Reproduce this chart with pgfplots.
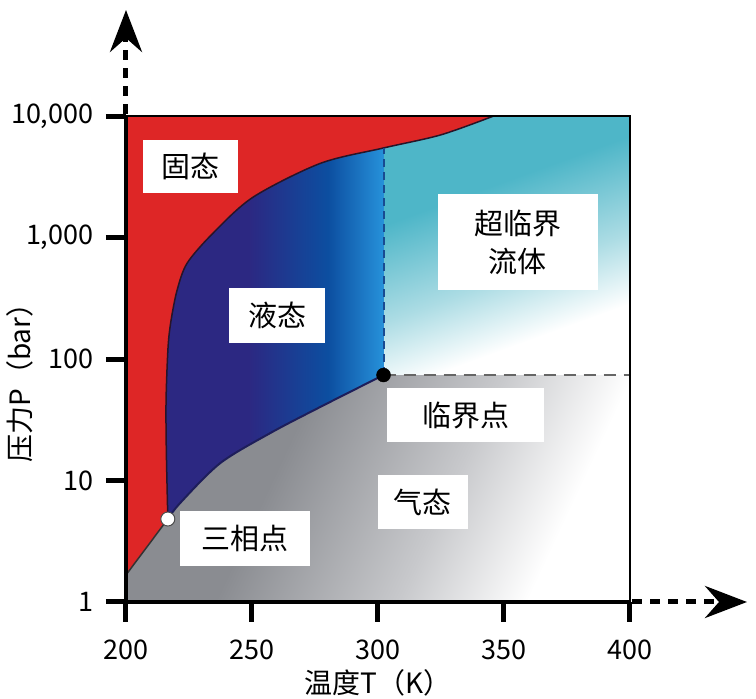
\documentclass[border=0pt]{standalone}
\usepackage{pgfplots}
\pgfplotsset{compat=1.18}
\usetikzlibrary{arrows.meta}
\usepackage{fontspec}
\setmainfont{Noto Sans CJK SC}
\definecolor{solidred}{RGB}{222,38,38}
\definecolor{navyb}{RGB}{44,40,130}
\definecolor{liqmid}{RGB}{12,78,160}
\definecolor{liqlight}{RGB}{38,145,218}
\definecolor{scteal}{RGB}{78,182,200}
\definecolor{sclight}{RGB}{172,220,228}
\definecolor{gasgrey}{RGB}{138,140,145}
\definecolor{gaslight}{RGB}{200,201,204}
\pgfdeclarehorizontalshading{liqshade}{100bp}{color(0bp)=(navyb); color(25bp)=(navyb); color(46bp)=(navyb); color(63bp)=(liqmid); color(75bp)=(liqlight); color(100bp)=(liqlight)}
\pgfdeclarehorizontalshading{gasshade}{100bp}{color(0bp)=(gasgrey); color(25bp)=(gasgrey); color(38bp)=(gasgrey); color(58bp)=(gaslight); color(72bp)=(white); color(100bp)=(white)}
\pgfdeclareverticalshading{scshade}{100bp}{color(0bp)=(white); color(25bp)=(white); color(31bp)=(white); color(44bp)=(sclight); color(62bp)=(scteal); color(100bp)=(scteal)}
\begin{document}
\begin{tikzpicture}
\begin{axis}[
  at={(0,0)}, anchor=south west,
  scale only axis, width=504pt, height=486pt,
  xmin=200, xmax=400, ymode=log, ymin=1, ymax=10000,
  xtick={200,250,300,350,400}, xticklabels={200,250,300,350,400},
  ytick={1,10,100,1000,10000}, yticklabels={1,10,100,{1,000},{10,000}},
  yminorticks=false, xminorticks=false,
  tick pos=left, tick align=outside, major tick length=20pt,
  major tick style={line width=5pt, black},
  axis line style={line width=2.5pt, black},
  axis on top,
  tick label style={font=\fontsize{27}{30}\selectfont},
  yticklabel style={xshift=-9pt},
  xticklabel style={yshift=-14pt},
  xlabel={温度T（K）}, ylabel={压力P（bar）},
  label style={font=\fontsize{28}{32}\selectfont},
  xlabel style={at={(axis description cs:0.5,-0.167)}, anchor=center},
  ylabel style={at={(axis description cs:-0.21,0.465)}, anchor=center},
]
% supercritical
\addplot[draw=none, shade, shading=scshade, shading angle=20] coordinates {(302.2,73.8) (302.2,10000) (400,10000) (400,73.8)};
% liquid
\addplot[draw=none, shade, shading=liqshade] coordinates {(210,1) (210,10000) (302.2,10000) (302.2,1)};
% gas
\addplot[draw=none, shade, shading=gasshade, shading angle=-25, smooth] coordinates {(216.6,4.82) (221.5,6.53) (237.4,13.9) (257.3,24.6) (277.1,40.3) (302.2,73.8)} -- (axis cs:400,73.8) -- (axis cs:400,1) -- (axis cs:200,1) -- (axis cs:200,1.67) -- cycle;
% solid
\addplot[draw=none, fill=solidred, smooth] coordinates {(216.6,4.82) (216.0,17.8) (215.9,46) (216.7,126) (217.9,209) (220.3,370) (224.3,617) (234.6,1089) (250.5,2153) (277.1,4074) (302.2,5457) (325,7000) (345.9,10000)} -- (axis cs:200,10000) -- (axis cs:200,1.67) -- cycle;
% boundary lines
\addplot[smooth, line width=1.5pt, color={rgb,255:red,40;green,20;blue,40}] coordinates {(216.6,4.82) (216.0,17.8) (215.9,46) (216.7,126) (217.9,209) (220.3,370) (224.3,617) (234.6,1089) (250.5,2153) (277.1,4074) (302.2,5457) (325,7000) (345.9,10000)};
\addplot[smooth, line width=2pt, color={rgb,255:red,30;green,30;blue,90}] coordinates {(216.6,4.82) (221.5,6.53) (237.4,13.9) (257.3,24.6) (277.1,40.3) (302.2,73.8)};
\addplot[line width=1.5pt, color=black!80] coordinates {(200,1.67) (216.6,4.82)};
\addplot[line width=2pt, dash pattern=on 8pt off 5pt, color={rgb,255:red,25;green,75;blue,145}] coordinates {(302.2,73.8) (302.2,5457)};
\addplot[line width=2pt, dash pattern=on 12pt off 8pt, color=black!60] coordinates {(302.2,73.8) (400,73.8)};
\addplot[only marks, mark=*, mark size=7pt, mark options={fill=white, draw=black!70, line width=1pt}] coordinates {(216.6,4.82)};
\addplot[only marks, mark=*, mark size=7pt, mark options={fill=black, draw=black}] coordinates {(302.2,73.8)};
% labels
\begin{scope}[every node/.style={fill=white, inner sep=0pt, align=center, font=\fontsize{29}{38}\selectfont}]
\node[minimum width=95pt, minimum height=53pt] at (axis cs:225.4,3874) {固态};
\node[minimum width=96pt, minimum height=55pt] at (axis cs:260.0,230) {液态};
\node[minimum width=160pt, minimum height=96pt] at (axis cs:355.5,918) {超临界\\流体};
\node[minimum width=157pt, minimum height=54pt] at (axis cs:334.8,34.6) {临界点};
\node[minimum width=90pt, minimum height=54pt] at (axis cs:317.7,6.65) {气态};
\node[minimum width=130pt, minimum height=55pt] at (axis cs:247.3,3.36) {三相点};
\end{scope}
\end{axis}
\draw[line width=4pt] (0,-2pt) -- (0,486pt);
\draw[line width=4pt] (-2pt,0) -- (504pt,0);
\draw[line width=5pt, dash pattern=on 10pt off 8pt, -{Stealth[length=42pt,width=32pt,inset=14pt]}] (0,488pt) -- (0,592pt);
\draw[line width=5pt, dash pattern=on 10pt off 8pt, -{Stealth[length=42pt,width=32pt,inset=14pt]}] (506pt,0) -- (621pt,0);
\pgfresetboundingbox
\useasboundingbox (-126pt,-97pt) rectangle (630pt,602pt);
\end{tikzpicture}
\end{document}
